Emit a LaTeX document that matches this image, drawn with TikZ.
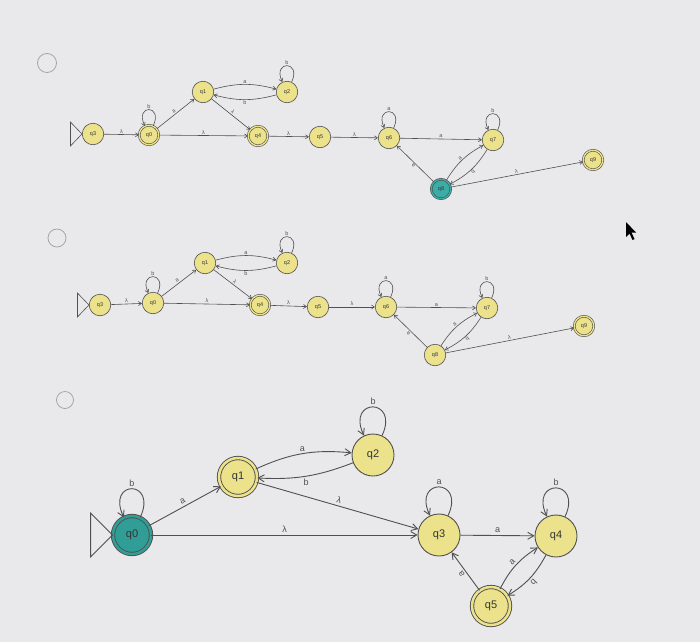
\documentclass[tikz,border=0pt]{standalone}
\usepackage{fontspec}
\setmainfont{Liberation Sans}
\usetikzlibrary{arrows.meta}
\definecolor{bg}{RGB}{233,233,235}
\definecolor{sy}{RGB}{236,226,140}
\definecolor{stl}{RGB}{60,172,166}
\definecolor{stlb}{RGB}{48,158,150}
\definecolor{ln}{RGB}{80,80,80}
\tikzset{
 sa/.style={circle, draw=ln, line width=0.6pt, fill=sy, minimum size=21.5pt, inner sep=0pt, text=black!80, font=\fontsize{5.5}{6.5}\selectfont},
 fa/.style={double=sy, double distance=1.3pt, minimum size=19.5pt},
 sb/.style={circle, draw=ln, line width=0.9pt, fill=sy, minimum size=42pt, inner sep=0pt, text=black!80, font=\fontsize{11}{13}\selectfont},
 fb/.style={double=sy, double distance=2.5pt, minimum size=38pt},
 ea/.style={draw=ln, line width=0.6pt, -{Straight Barb[length=3pt,width=4pt]}},
 eb/.style={draw=ln, line width=0.9pt, -{Straight Barb[length=6pt,width=7pt]}},
 la/.style={font=\fontsize{5.5}{6.5}\selectfont, inner sep=1pt, text=ln},
 lb/.style={font=\fontsize{9}{10}\selectfont, inner sep=2pt, text=ln},
 radio/.style={circle, draw=gray!75, line width=0.7pt, inner sep=0pt},
 starta/.style={draw=ln, line width=0.6pt},
 startb/.style={draw=ln, line width=0.9pt}
}
\begin{document}
\begin{tikzpicture}
\fill[bg] (0,0) rectangle (700pt,-642pt);
\useasboundingbox (0,0) rectangle (700pt,-642pt);
\begin{scope}[x=1pt,y=1pt]
% radio buttons
\node[radio, minimum size=19pt] (r1) at (47,-63) {};
\node[radio, minimum size=18pt] (r2) at (57,-238) {};
\node[radio, minimum size=17pt] (r3) at (65,-400) {};

% ===== Diagram 1 =====
\node[sa] (a3) at (93,-134) {q3};
\node[sa,fa] (a0) at (149,-135) {q0};
\node[sa] (a1) at (203,-92) {q1};
\node[sa] (a2) at (287,-92) {q2};
\node[sa,fa] (a4) at (258,-136) {q4};
\node[sa] (a5) at (320,-137) {q5};
\node[sa] (a6) at (389,-138) {q6};
\node[sa] (a7) at (493,-140) {q7};
\node[sa,fa,fill=stl,double=stl] (a8) at (441,-189) {q8};
\node[sa,fa] (a9) at (593,-160) {q9};
\draw[starta] (a3.west) -- ++(-11.5,12) -- ++(0,-24) -- cycle;
\draw[ea] (a3) -- node[la,above]{λ} (a0);
\draw[ea] (a0) -- node[la,above,sloped]{a} (a1);
\draw[ea] (a1) to[bend left=15] node[la,above]{a} (a2);
\draw[ea] (a2) to[bend left=15] node[la,below]{b} (a1);
\draw[ea] (a1) -- node[la,above,sloped]{λ} (a4);
\draw[ea] (a0) -- node[la,above]{λ} (a4);
\draw[ea] (a4) -- node[la,above]{λ} (a5);
\draw[ea] (a5) -- node[la,above]{λ} (a6);
\draw[ea] (a6) -- node[la,above]{a} (a7);
\draw[ea] (a8) -- node[la,above,sloped,allow upside down]{a} (a6);
\draw[ea] (a8) to[bend left=15] node[la,above,sloped]{a} (a7);
\draw[ea] (a7) to[bend left=15] node[la,above,sloped,allow upside down]{b} (a8);
\draw[ea] (a8) -- node[la,above,sloped]{λ} (a9);
\draw[ea] (a0.65) .. controls +(65:24) and +(115:24) .. node[la,above]{b} (a0.115);
\draw[ea] (a2.65) .. controls +(65:24) and +(115:24) .. node[la,above]{b} (a2.115);
\draw[ea] (a6.65) .. controls +(65:24) and +(115:24) .. node[la,above]{a} (a6.115);
\draw[ea] (a7.65) .. controls +(65:24) and +(115:24) .. node[la,above]{b} (a7.115);

% ===== Diagram 2 =====
\node[sa] (b3) at (100,-305) {q3};
\node[sa] (b0) at (153,-303) {q0};
\node[sa] (b1) at (205,-263) {q1};
\node[sa] (b2) at (287,-263) {q2};
\node[sa,fa] (b4) at (260,-305) {q4};
\node[sa] (b5) at (318,-307) {q5};
\node[sa] (b6) at (386,-307) {q6};
\node[sa] (b7) at (487,-308) {q7};
\node[sa] (b8) at (435,-355) {q8};
\node[sa,fa] (b9) at (584,-326) {q9};
\draw[starta] (b3.west) -- ++(-11.5,12) -- ++(0,-24) -- cycle;
\draw[ea] (b3) -- node[la,above]{λ} (b0);
\draw[ea] (b0) -- node[la,above,sloped]{a} (b1);
\draw[ea] (b1) to[bend left=15] node[la,above]{a} (b2);
\draw[ea] (b2) to[bend left=15] node[la,below]{b} (b1);
\draw[ea] (b1) -- node[la,above,sloped]{λ} (b4);
\draw[ea] (b0) -- node[la,above]{λ} (b4);
\draw[ea] (b4) -- node[la,above]{λ} (b5);
\draw[ea] (b5) -- node[la,above]{λ} (b6);
\draw[ea] (b6) -- node[la,above]{a} (b7);
\draw[ea] (b8) -- node[la,above,sloped,allow upside down]{a} (b6);
\draw[ea] (b8) to[bend left=15] node[la,above,sloped]{a} (b7);
\draw[ea] (b7) to[bend left=15] node[la,above,sloped,allow upside down]{b} (b8);
\draw[ea] (b8) -- node[la,above,sloped]{λ} (b9);
\draw[ea] (b0.65) .. controls +(65:24) and +(115:24) .. node[la,above]{b} (b0.115);
\draw[ea] (b2.65) .. controls +(65:24) and +(115:24) .. node[la,above]{b} (b2.115);
\draw[ea] (b6.65) .. controls +(65:24) and +(115:24) .. node[la,above]{a} (b6.115);
\draw[ea] (b7.65) .. controls +(65:24) and +(115:24) .. node[la,above]{b} (b7.115);

% ===== Diagram 3 =====
\node[sb,fb,fill=stlb,double=stlb] (c0) at (132,-535) {q0};
\node[sb,fb] (c1) at (238,-477) {q1};
\node[sb] (c2) at (373,-455) {q2};
\node[sb] (c3) at (439,-535) {q3};
\node[sb] (c4) at (556,-536) {q4};
\node[sb,fb] (c5) at (491,-606) {q5};
\draw[startb] (c0.west) -- ++(-22,22) -- ++(0,-44) -- cycle;
\draw[eb] (c0) -- node[lb,above,sloped]{a} (c1);
\draw[eb] (c1) to[bend left=15] node[lb,above]{a} (c2);
\draw[eb] (c2) to[bend left=12] node[lb,below]{b} (c1);
\draw[eb] (c1) -- node[lb,above,sloped]{λ} (c3);
\draw[eb] (c0) -- node[lb,above]{λ} (c3);
\draw[eb] (c3) -- node[lb,above]{a} (c4);
\draw[eb] (c5) -- node[lb,above,sloped,allow upside down]{a} (c3);
\draw[eb] (c5) to[bend left=15] node[lb,above,sloped]{a} (c4);
\draw[eb] (c4) to[bend left=15] node[lb,above,sloped,allow upside down]{b} (c5);
\draw[eb] (c0.65) .. controls +(65:42) and +(115:42) .. node[lb,above]{b} (c0.115);
\draw[eb] (c2.65) .. controls +(65:42) and +(115:42) .. node[lb,above]{b} (c2.115);
\draw[eb] (c3.65) .. controls +(65:42) and +(115:42) .. node[lb,above]{a} (c3.115);
\draw[eb] (c4.65) .. controls +(65:42) and +(115:42) .. node[lb,above]{b} (c4.115);

% mouse cursor
\fill[black] (626,-222) -- (626,-237) -- (629.5,-233.5) -- (632.5,-240) -- (634.5,-239) -- (631.5,-232.5) -- (636,-232.5) -- cycle;
\end{scope}
\end{tikzpicture}
\end{document}
